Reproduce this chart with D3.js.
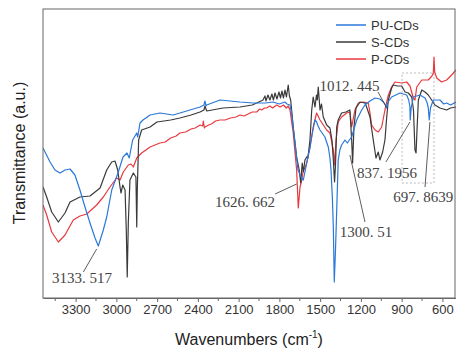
<!DOCTYPE html>
<html>
<head>
<meta charset="utf-8">
<script src="https://cdn.jsdelivr.net/npm/d3@7"></script>
<style>
  body { margin: 0; background: #fff; }
  svg { display: block; }
</style>
</head>
<body>
<div id="chart"></div>
<script>
// FTIR spectra, [wavenumber (cm-1), transmittance (a.u.)]
const puCDs = [
  [3540,150],[3488,136],[3452,128],[3415,125],[3378,128],[3341,129],[3305,123],[3268,108],
  [3231,91],[3194,75],[3157,60],[3133,52],[3096,68],[3071,81],[3034,108],[2988,125],
  [2951,141],[2922,145],[2905,140],[2880,158],[2850,165],[2843,161],[2826,175],[2804,178],
  [2752,183],[2679,185],[2583,183],[2532,185],[2458,188],[2384,191],[2355,193],[2348,197],
  [2340,192],[2335,193],[2237,198],[2090,196],[1994,195],[1900,195],[1847,196],[1800,194],
  [1760,196],[1744,194],[1722,193],[1710,185],[1698,170],[1685,155],[1673,140],[1663,128],
  [1650,124],[1636,120],[1624,118],[1612,126],[1599,135],[1590,141],[1575,150],[1562,161],
  [1550,170],[1538,178],[1526,176],[1515,172],[1501,168],[1465,161],[1440,151],[1428,140],
  [1420,128],[1410,100],[1403,71],[1396,16],[1387,48],[1378,88],[1367,138],[1355,148],
  [1342,153],[1317,158],[1300,155],[1285,158],[1268,161],[1231,178],[1194,188],[1170,193],
  [1133,197],[1096,200],[1060,199],[1035,196],[1020,193],[1012,190],[1000,196],[974,201],
  [912,205],[863,203],[848,198],[839,191],[837,178],[830,190],[814,201],[765,203],
  [728,200],[712,195],[704,190],[697,178],[688,190],[667,198],[618,198],[590,194],
  [569,195],[540,193],[500,196]
];

const sCDs = [
  [3540,111],[3513,101],[3476,86],[3427,76],[3378,85],[3341,96],[3268,101],[3194,102],
  [3120,110],[3071,128],[3034,136],[3010,137],[2990,128],[2973,111],[2966,105],[2953,113],
  [2936,108],[2927,68],[2920,21],[2912,75],[2900,118],[2875,125],[2856,121],[2850,71],
  [2846,108],[2836,158],[2814,168],[2752,171],[2701,176],[2600,178],[2532,180],[2450,183],
  [2384,186],[2355,188],[2348,192],[2335,187],[2215,190],[2090,191],[2000,193],[1967,195],
  [1921,198],[1906,202],[1899,197],[1884,203],[1870,198],[1855,204],[1844,198],[1832,205],
  [1818,199],[1803,206],[1792,200],[1781,207],[1770,200],[1759,208],[1748,201],[1735,213],
  [1726,202],[1717,198],[1698,171],[1673,141],[1654,128],[1643,115],[1632,135],[1623,126],
  [1612,138],[1599,141],[1590,140],[1575,158],[1562,188],[1551,201],[1538,191],[1527,203],
  [1521,198],[1514,211],[1501,188],[1490,194],[1477,181],[1452,173],[1428,170],[1413,158],
  [1403,138],[1394,116],[1387,133],[1378,171],[1367,178],[1342,185],[1310,186],[1281,188],
  [1268,158],[1261,135],[1251,171],[1236,190],[1207,196],[1170,195],[1158,191],[1133,181],
  [1109,158],[1089,140],[1072,146],[1060,138],[1040,146],[1023,158],[1010,181],[998,198],
  [974,210],[961,213],[930,212],[900,212],[875,206],[851,205],[826,201],[813,188],
  [802,148],[794,145],[787,168],[777,198],[752,208],[728,206],[704,203],[679,198],
  [655,193],[618,190],[569,188],[540,190],[500,191]
];

const pCDs = [
  [3540,93],[3513,83],[3476,66],[3427,56],[3378,63],[3317,78],[3268,82],[3218,84],
  [3145,93],[3096,101],[3047,111],[2998,120],[2973,118],[2949,126],[2912,133],[2892,134],
  [2875,131],[2850,140],[2814,145],[2752,151],[2679,155],[2640,156],[2600,160],[2560,162],
  [2532,165],[2490,166],[2450,169],[2420,170],[2384,173],[2365,172],[2360,177],[2352,170],
  [2348,171],[2320,173],[2300,174],[2270,177],[2237,178],[2200,178],[2160,180],[2120,181],
  [2090,183],[2060,182],[2030,184],[2000,186],[1967,186],[1945,189],[1930,188],[1910,190],
  [1894,190],[1870,192],[1850,190],[1820,193],[1795,191],[1770,193],[1750,190],[1735,192],
  [1722,188],[1698,165],[1673,128],[1661,90],[1648,111],[1635,118],[1624,128],[1612,130],
  [1599,135],[1575,151],[1551,171],[1526,185],[1501,178],[1452,168],[1428,165],[1403,148],
  [1394,133],[1383,158],[1367,176],[1342,181],[1305,185],[1281,186],[1268,171],[1244,188],
  [1219,195],[1182,196],[1146,195],[1133,185],[1121,173],[1096,168],[1072,166],[1047,171],
  [1023,188],[998,203],[974,211],[949,216],[900,215],[863,216],[839,212],[814,200],
  [802,198],[789,211],[752,218],[704,218],[677,222],[667,225],[662,241],[657,226],
  [642,220],[606,216],[569,218],[532,223],[500,228]
];

const seriesNames = ["PU-CDs", "S-CDs", "P-CDs"];
const seriesColors = ["#2b78d8", "#3a3a3a", "#e8393f"];

const xTicks = [3300, 3000, 2700, 2400, 2100, 1800, 1500, 1200, 900, 600];
const xMinorTicks = [3450, 3150, 2850, 2550, 2250, 1950, 1650, 1350, 1050, 750];

// peak labels: text anchor and leader line ends, in data units
const peakLabels = ["3133. 517", "1626. 662", "1300. 51", "837. 1956", "697. 8639", "1012. 445"];
const labelPos = [[3474,15], [2274,91], [1356,61], [1229,120], [962,96], [1504,207]];
const leaderFrom = [[3243,26], [1832,104], [1170,76], [1016,136], [728,111], [1074,206]];
const leaderTo = [[3145,49], [1673,114], [1281,143], [839,176], [692,176], [1013,191]];
const boxCorners = [[897,225], [662,115]];

const width = 456, height = 349;
const margin = { left: 43, top: 9, right: 456, bottom: 298 };

const svg = d3.select("#chart").append("svg")
    .attr("width", width)
    .attr("height", height);

const x = d3.scaleLinear().domain([3540, 500]).range([margin.left, margin.right]);
const y = d3.scaleLinear().domain([0, 289]).range([margin.bottom, margin.top]);

svg.append("clipPath").attr("id", "clip")
  .append("rect")
    .attr("x", margin.left).attr("y", margin.top)
    .attr("width", margin.right - margin.left).attr("height", margin.bottom - margin.top);

const line = d3.line().x(d => x(d[0])).y(d => y(d[1]));

// dashed box around the 900-660 region
svg.append("rect")
    .attr("x", x(boxCorners[0][0])).attr("y", y(boxCorners[0][1]))
    .attr("width", x(boxCorners[1][0]) - x(boxCorners[0][0]))
    .attr("height", y(boxCorners[1][1]) - y(boxCorners[0][1]))
    .attr("fill", "none").attr("stroke", "#aaa")
    .attr("stroke-width", 0.8).attr("stroke-dasharray", "2,2");

// curves, red first so blue ends on top
const curves = [pCDs, sCDs, puCDs];
const curveColors = [seriesColors[2], seriesColors[1], seriesColors[0]];
const g = svg.append("g").attr("clip-path", "url(#clip)");
curves.forEach((c, i) => {
  g.append("path")
      .datum(c)
      .attr("fill", "none")
      .attr("stroke", curveColors[i])
      .attr("stroke-width", 1.2)
      .attr("stroke-linejoin", "round")
      .attr("d", line);
});

// leader lines and peak labels
peakLabels.forEach((t, i) => {
  svg.append("line")
      .attr("x1", x(leaderFrom[i][0])).attr("y1", y(leaderFrom[i][1]))
      .attr("x2", x(leaderTo[i][0])).attr("y2", y(leaderTo[i][1]))
      .attr("stroke", "#333").attr("stroke-width", 0.8);
  svg.append("text")
      .attr("x", x(labelPos[i][0])).attr("y", y(labelPos[i][1]))
      .attr("font-family", "'Liberation Serif', 'DejaVu Serif', serif")
      .attr("font-size", 15)
      .attr("fill", "#444")
      .text(t);
});

// frame
svg.append("rect")
    .attr("x", margin.left).attr("y", margin.top)
    .attr("width", 412).attr("height", margin.bottom - margin.top)
    .attr("fill", "none").attr("stroke", "#666").attr("stroke-width", 1);

// x axis
const xAxis = svg.append("g")
    .attr("transform", `translate(0,${margin.bottom})`)
    .call(d3.axisBottom(x).tickValues(xTicks).tickFormat(d3.format("d"))
      .tickSize(4).tickSizeOuter(0).tickPadding(3));
xAxis.select(".domain").attr("stroke", "#666");
xAxis.selectAll(".tick line").attr("stroke", "#666");
xAxis.selectAll("text")
    .attr("font-family", "'Liberation Sans', Arial, sans-serif")
    .attr("font-size", 13)
    .attr("fill", "#333");
svg.append("g")
    .attr("transform", `translate(0,${margin.bottom})`)
    .selectAll("line")
    .data(xMinorTicks)
    .enter().append("line")
    .attr("x1", d => x(d)).attr("x2", d => x(d))
    .attr("y1", 0).attr("y2", 3)
    .attr("stroke", "#666");

// axis titles
const xTitle = svg.append("text")
    .attr("x", 249).attr("y", 345)
    .attr("text-anchor", "middle")
    .attr("font-family", "'Liberation Sans', Arial, sans-serif")
    .attr("font-size", 16)
    .attr("fill", "#222");
xTitle.append("tspan").text("Wavenumbers (cm");
xTitle.append("tspan").attr("font-size", 10).attr("dy", -7).text("-1");
xTitle.append("tspan").attr("dy", 7).text(")");

svg.append("text")
    .attr("transform", "translate(25,153) rotate(-90)")
    .attr("text-anchor", "middle")
    .attr("font-family", "'Liberation Sans', Arial, sans-serif")
    .attr("font-size", 16)
    .attr("fill", "#222")
    .text("Transmittance (a.u.)");

// legend
const legend = svg.append("g").attr("transform", "translate(336,25)");
seriesNames.forEach((name, i) => {
  const row = legend.append("g").attr("transform", `translate(0,${i * 17})`);
  row.append("line")
      .attr("x1", 0).attr("x2", 30).attr("y1", 0).attr("y2", 0)
      .attr("stroke", seriesColors[i]).attr("stroke-width", 1.5);
  row.append("text")
      .attr("x", 35).attr("y", 4.5)
      .attr("font-family", "'Liberation Sans', Arial, sans-serif")
      .attr("font-size", 13)
      .attr("fill", "#333")
      .text(name);
});
</script>
</body>
</html>
